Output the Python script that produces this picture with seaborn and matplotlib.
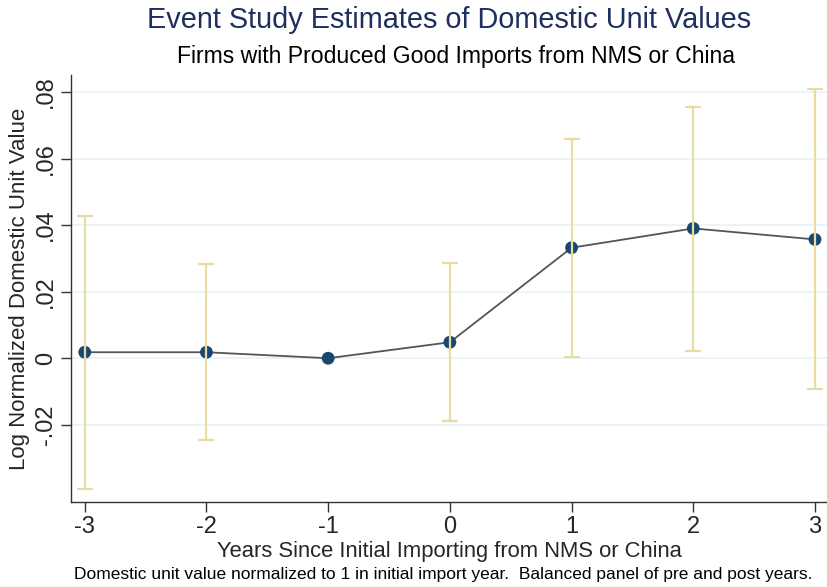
import matplotlib
matplotlib.use("Agg")
import matplotlib.pyplot as plt
import seaborn as sns
import pandas as pd

# Event-study coefficients with 95% confidence bounds
years = [-3, -2, -1, 0, 1, 2, 3]
estimate = [0.0018, 0.0018, 0.0, 0.0048, 0.0332, 0.0390, 0.0357]
ci_upper = [0.0426, 0.0283, 0.0, 0.0287, 0.0658, 0.0755, 0.0809]
ci_lower = [-0.0394, -0.0247, 0.0, -0.0188, 0.0003, 0.0021, -0.0093]
ytick_values = [-0.02, 0, 0.02, 0.04, 0.06, 0.08]
ytick_labels = ["-.02", "0", ".02", ".04", ".06", ".08"]

df = pd.DataFrame({"year": years, "est": estimate, "hi": ci_upper, "lo": ci_lower})
ci = df[df["year"] != -1]

sns.set_style("white")
plt.rcParams["font.family"] = ["Liberation Sans", "DejaVu Sans"]

navy = "#1a476f"
sand = "#e8dca5"
grid = "#eaf2f3"

fig = plt.figure(figsize=(8.28, 5.87), dpi=100)
ax = fig.add_axes([71 / 828, 85 / 587, 1 - 71 / 828, 427 / 587])

for v in ytick_values:
    ax.axhline(v, color=grid, lw=1.2, zorder=0)

sns.lineplot(data=df, x="year", y="est", ax=ax, color="#555555", lw=1.3, zorder=2)
sns.scatterplot(data=df, x="year", y="est", ax=ax, color=navy, s=85,
                edgecolor="none", zorder=3)
ax.errorbar(ci["year"], ci["est"],
            yerr=[ci["est"] - ci["lo"], ci["hi"] - ci["est"]],
            fmt="none", ecolor=sand, elinewidth=1.6, capsize=6, capthick=1.6,
            zorder=4)

ax.set_xlim(-3.113, 3.107)
ax.set_ylim(-0.0432, 0.0851)
ax.set_xticks(years)
ax.set_xticklabels([str(y) for y in years])
ax.set_yticks(ytick_values)
ax.set_yticklabels(ytick_labels, rotation=90, va="center")

for side in ("top", "right"):
    ax.spines[side].set_visible(False)
for side in ("left", "bottom"):
    ax.spines[side].set_color("#333333")
    ax.spines[side].set_linewidth(1.0)

ax.tick_params(axis="both", which="major", direction="out", length=7, width=1,
               color="#333333", labelsize=17, pad=3, bottom=True, left=True)

ax.set_xlabel("Years Since Initial Importing from NMS or China", fontsize=15.8, labelpad=2)
ax.set_ylabel("Log Normalized Domestic Unit Value", fontsize=16, labelpad=4)

fig.text(449 / 828, 1 - 20 / 587, "Event Study Estimates of Domestic Unit Values",
         ha="center", va="center", fontsize=20.8, color="#1f2f5e")
fig.text(456 / 828, 1 - 57 / 587, "Firms with Produced Good Imports from NMS or China",
         ha="center", va="center", fontsize=16.6, color="black")
fig.text(443 / 828, 1 - 575 / 587,
         "Domestic unit value normalized to 1 in initial import year.  Balanced panel of pre and post years.",
         ha="center", va="center", fontsize=12.55, color="black")

fig.savefig("out.png", dpi=100)
